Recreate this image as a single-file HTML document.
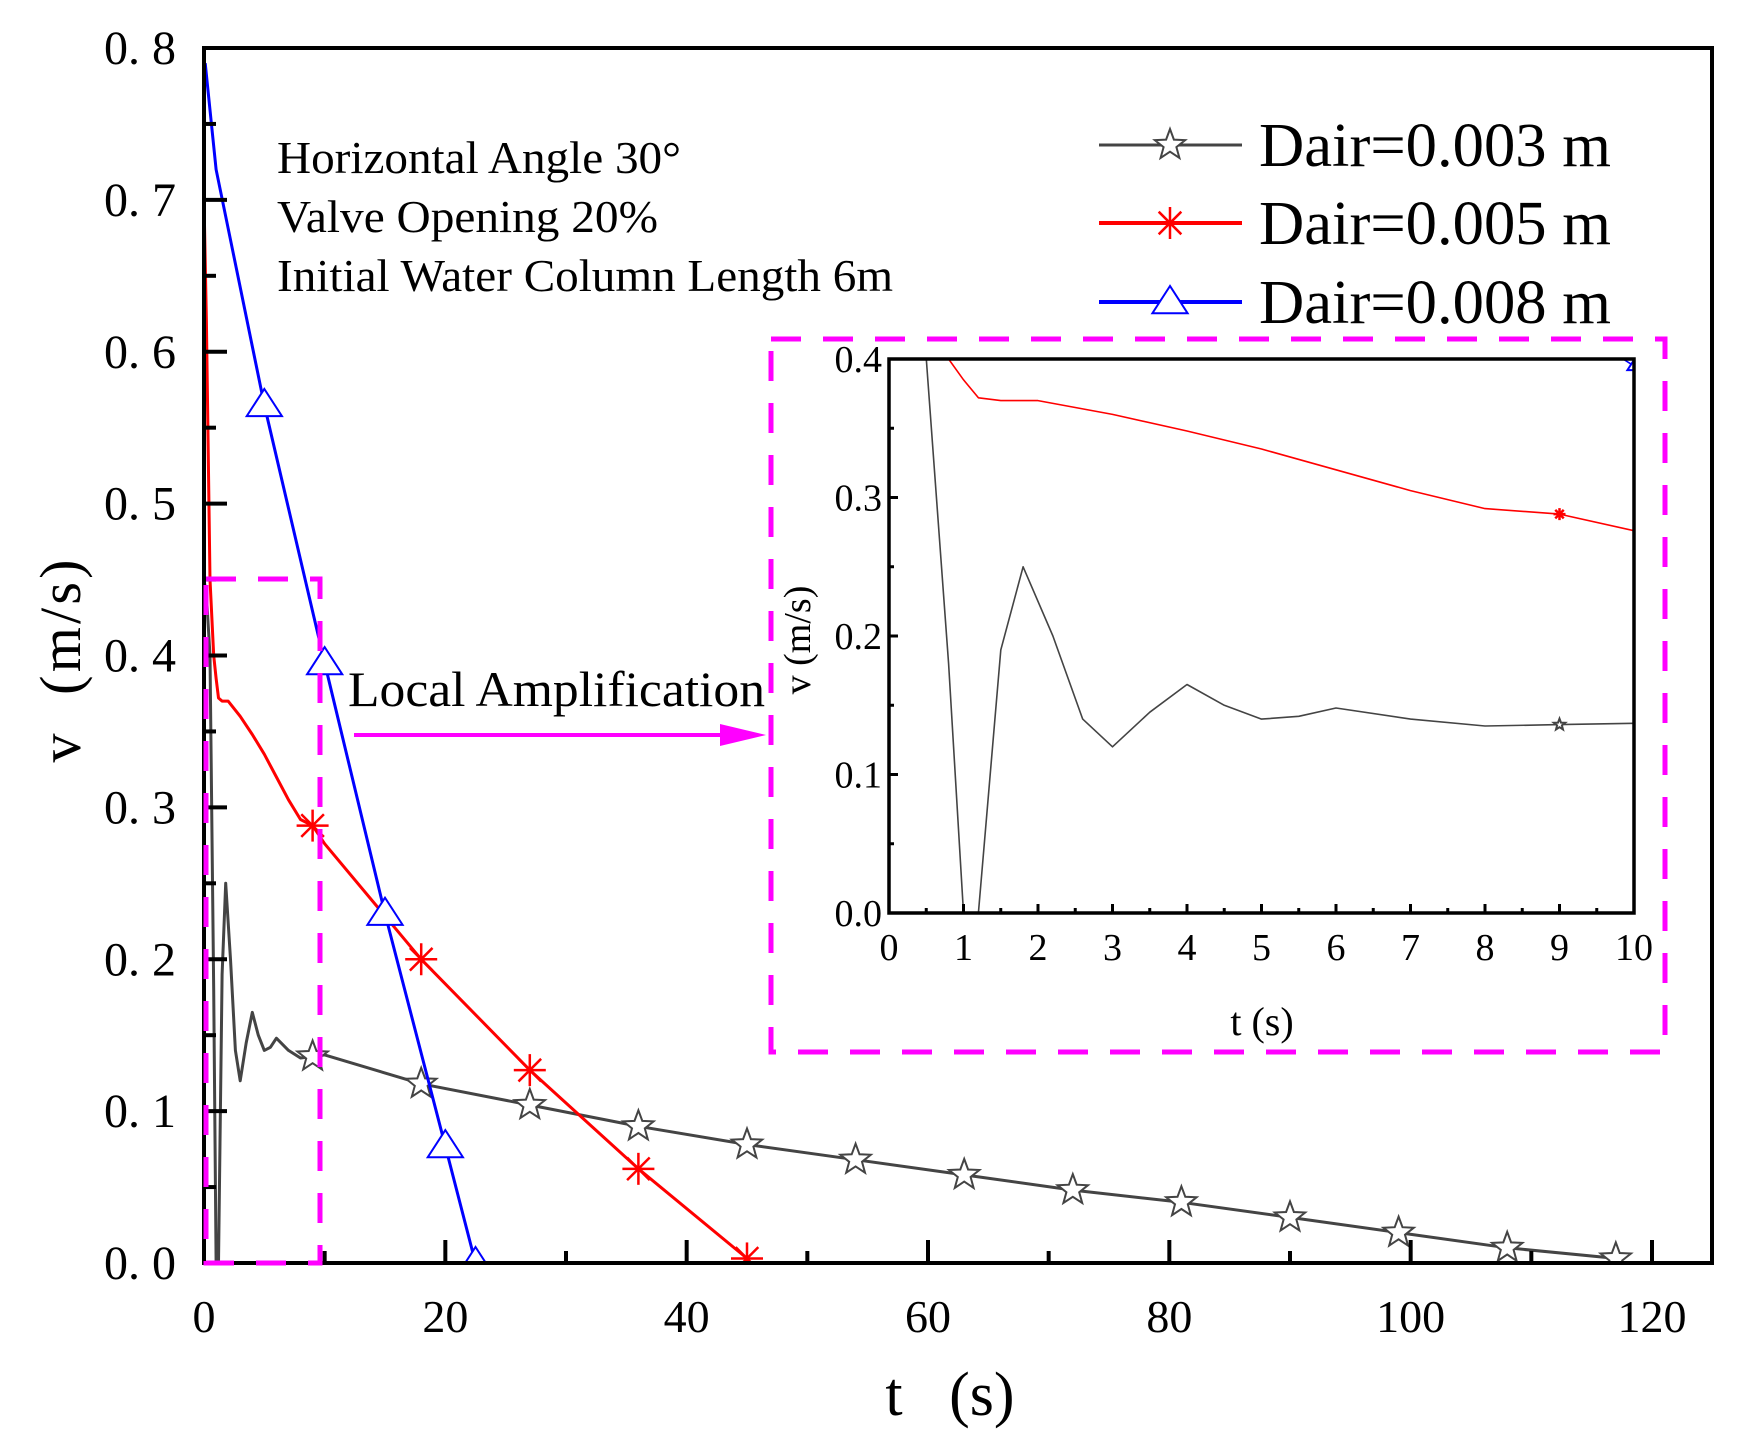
<!DOCTYPE html>
<html><head><meta charset="utf-8"><style>
html,body{margin:0;padding:0;background:#fff;}
svg{display:block;font-family:"Liberation Serif","Noto Serif CJK SC",serif;}
</style></head><body>
<svg id="chart" width="1738" height="1451" viewBox="0 0 1738 1451" xmlns="http://www.w3.org/2000/svg">
<defs>
<clipPath id="insetClip"><rect x="889" y="359" width="745" height="554"/></clipPath>
<clipPath id="mainClip"><rect x="204" y="48" width="1508" height="1215"/></clipPath>
</defs>
<g id="main"></g>
<g id="inset"></g>
<g font-size="46" fill="#000">
<text x="277" y="173" textLength="404" lengthAdjust="spacingAndGlyphs">Horizontal Angle 30°</text>
<text x="277" y="232" textLength="381" lengthAdjust="spacingAndGlyphs">Valve Opening 20%</text>
<text x="277" y="291" textLength="616" lengthAdjust="spacingAndGlyphs">Initial Water Column Length 6m</text>
</g>
<text x="348" y="706" font-size="50" textLength="417" lengthAdjust="spacingAndGlyphs">Local Amplification</text>
<g>
<line x1="354" y1="735" x2="730" y2="735" stroke="#ff00ff" stroke-width="4"/>
<polygon points="720,724 766,735 720,746" fill="#ff00ff"/>
</g>
<rect x="206" y="579" width="114" height="684" fill="none" stroke="#ff00ff" stroke-width="5" stroke-dasharray="30,22"/>
<rect x="771" y="339" width="894" height="713" fill="none" stroke="#ff00ff" stroke-width="5" stroke-dasharray="30,22"/>
<g id="legend"></g>
</svg>
<script>
// ---- data ----
const t003 = [0,0.2,0.5,0.8,1.0,1.2,1.5,1.8,2.2,2.6,3.0,3.5,4.0,4.5,5.0,5.5,6.0,7.0,8.0,9.0,10,18,27,36,45,54,63,72,81,90,99,108,117];
const v003 = [0.45,0.44,0.40,0.18,0.0,0.0,0.19,0.25,0.20,0.14,0.12,0.145,0.165,0.15,0.14,0.142,0.148,0.14,0.135,0.136,0.137,0.118,0.104,0.09,0.078,0.068,0.058,0.048,0.04,0.03,0.02,0.01,0.003];
const t005 = [0,0.2,0.5,0.8,1.0,1.2,1.5,2.0,3,4,5,6,7,8,9,10,18,27,36,45];
const v005 = [0.70,0.62,0.45,0.40,0.385,0.372,0.37,0.37,0.36,0.348,0.335,0.32,0.305,0.292,0.288,0.276,0.20,0.127,0.062,0.003];
const t008 = [0.1,1,5,10,15,20,22.5];
const v008 = [0.79,0.72,0.565,0.395,0.23,0.077,0.0];
const m003 = [9,18,27,36,45,54,63,72,81,90,99,108,117];
const m005 = [9,18,27,36,45];
const m008 = [5,10,15,20,22.5];
const xTicksMain = [0,20,40,60,80,100,120];
const yTicksMain = ["0. 0","0. 1","0. 2","0. 3","0. 4","0. 5","0. 6","0. 7","0. 8"];
const xTicksInset = [0,1,2,3,4,5,6,7,8,9,10];
const yTicksInset = ["0.0","0.1","0.2","0.3","0.4"];
const legendLabels = ["Dair=0.003 m","Dair=0.005 m","Dair=0.008 m"];

const NS="http://www.w3.org/2000/svg";
function mk(tag,attrs,parent){const e=document.createElementNS(NS,tag);for(const k in attrs)e.setAttribute(k,attrs[k]);parent.appendChild(e);return e;}
function interp(ts,vs,t){for(let i=0;i<ts.length-1;i++){if(t>=ts[i]&&t<=ts[i+1]){const f=(t-ts[i])/(ts[i+1]-ts[i]||1);return vs[i]+f*(vs[i+1]-vs[i]);}}return vs[vs.length-1];}
function star(g,x,y,r,col){let p=[];for(let i=0;i<10;i++){const a=-Math.PI/2+i*Math.PI/5;const rr=i%2?r*0.42:r;p.push((x+rr*Math.cos(a)).toFixed(1)+","+(y+rr*Math.sin(a)).toFixed(1));}
 return mk('polygon',{points:p.join(' '),fill:'#fff',stroke:col,'stroke-width':2},g);}
function aster(g,x,y,r,col){const e=mk('g',{stroke:col,'stroke-width':2.5},g);for(let i=0;i<4;i++){const a=i*Math.PI/4;mk('line',{x1:x-r*Math.sin(a),y1:y-r*Math.cos(a),x2:x+r*Math.sin(a),y2:y+r*Math.cos(a)},e);}return e;}
function tri(g,x,y,r,col){return mk('polygon',{points:`${x},${y-r} ${x-r*1.1},${y+r*0.7} ${x+r*1.1},${y+r*0.7}`,fill:'#fff',stroke:col,'stroke-width':2},g);}

// ---- main plot ----
const X0=204,X1=1652,Y0=1263,YT=48;
const sx=t=>X0+(t/120)*(X1-X0);
const sy=v=>Y0-(v/0.8)*(Y0-YT);
const main=document.getElementById('main');
const series=[
 {t:t003,v:v003,m:m003,col:'#444',w:3,mark:star,name:'series-dair-0003'},
 {t:t005,v:v005,m:m005,col:'#ff0000',w:3,mark:aster,name:'series-dair-0005'},
 {t:t008,v:v008,m:m008,col:'#0000ff',w:3,mark:tri,name:'series-dair-0008'}];
const gl=mk('g',{'clip-path':'url(#mainClip)'},main);
series.forEach(s=>{
 const g=mk('g',{},gl);
 
 
 const d=s.t.map((t,i)=>(i?'L':'M')+sx(t).toFixed(1)+','+sy(s.v[i]).toFixed(1)).join(' ');
 const p=mk('path',{d:d,fill:'none',stroke:s.col,'stroke-width':s.w,'stroke-linejoin':'round'},g);
 
 
 s.m.forEach(t=>{const e=s.mark(g,sx(t),sy(interp(s.t,s.v,t)),16,s.col);
  
  });
});
const frame=mk('rect',{x:X0,y:YT,width:1712-X0,height:Y0-YT,fill:'none',stroke:'#000','stroke-width':4},main);


const xa=mk('g',{},main);


xTicksMain.forEach(t=>{mk('line',{x1:sx(t),y1:Y0,x2:sx(t),y2:Y0-23,stroke:'#000','stroke-width':4},xa);
 const tx=mk('text',{x:sx(t),y:1332,'font-size':46,'text-anchor':'middle'},xa);tx.textContent=t;
 
 
 if(t<120)mk('line',{x1:sx(t+10),y1:Y0,x2:sx(t+10),y2:Y0-12,stroke:'#000','stroke-width':4},xa);});
const ya=mk('g',{},main);


yTicksMain.forEach((l,i)=>{const v=i*0.1;mk('line',{x1:X0,y1:sy(v),x2:X0+23,y2:sy(v),stroke:'#000','stroke-width':4},ya);
 const tx=mk('text',{x:176,y:sy(v)+16,'font-size':48,'text-anchor':'end'},ya);tx.textContent=l;
 
 
 if(i<8)mk('line',{x1:X0,y1:sy(v+0.05),x2:X0+12,y2:sy(v+0.05),stroke:'#000','stroke-width':4},ya);});
const xt=mk('text',{x:950,y:1415,'font-size':62,'text-anchor':'middle'},main);xt.textContent='t\u00a0\u00a0\u00a0(s)';


const yt=mk('text',{x:0,y:0,'font-size':58,'text-anchor':'middle',textLength:203,lengthAdjust:'spacing',transform:'translate(80,661) rotate(-90)'},main);yt.textContent='v\u00a0\u00a0(m/s)';



// ---- inset ----
const IX0=889,IX1=1634,IY0=913,IYT=359;
const ix=t=>IX0+(t/10)*(IX1-IX0);
const iy=v=>IY0-(v/0.4)*(IY0-IYT);
const inset=document.getElementById('inset');


mk('rect',{x:IX0,y:IYT,width:IX1-IX0,height:IY0-IYT,fill:'#fff'},inset);
const ic=mk('g',{'clip-path':'url(#insetClip)'},inset);
series.forEach(s=>{
 const d=s.t.map((t,i)=>(i?'L':'M')+ix(t).toFixed(1)+','+iy(s.v[i]).toFixed(1)).join(' ');
 const p=mk('path',{d:d,fill:'none',stroke:s.col,'stroke-width':1.6,'stroke-linejoin':'round'},ic);
 
 
 s.m.filter(t=>t<=10).forEach(t=>{s.mark(ic,ix(t),iy(interp(s.t,s.v,t)),6,s.col);});
});
mk('rect',{x:IX0,y:IYT,width:IX1-IX0,height:IY0-IYT,fill:'none',stroke:'#000','stroke-width':3.5},inset);
xTicksInset.forEach(t=>{mk('line',{x1:ix(t),y1:IY0,x2:ix(t),y2:IY0-9,stroke:'#000','stroke-width':3},inset);
 if(t<10)mk('line',{x1:ix(t+0.5),y1:IY0,x2:ix(t+0.5),y2:IY0-5,stroke:'#000','stroke-width':3},inset);
 const tx=mk('text',{x:ix(t),y:960,'font-size':38,'text-anchor':'middle'},inset);tx.textContent=t;
 
 });
yTicksInset.forEach((l,i)=>{const v=i*0.1;mk('line',{x1:IX0,y1:iy(v),x2:IX0+9,y2:iy(v),stroke:'#000','stroke-width':3},inset);
 if(i<4)mk('line',{x1:IX0,y1:iy(v+0.05),x2:IX0+5,y2:iy(v+0.05),stroke:'#000','stroke-width':3},inset);
 const tx=mk('text',{x:882,y:iy(v)+13,'font-size':38,'text-anchor':'end'},inset);tx.textContent=l;
 
 });
const ixt=mk('text',{x:1262,y:1035,'font-size':40,'text-anchor':'middle'},inset);ixt.textContent='t (s)';


const iyt=mk('text',{x:0,y:0,'font-size':38,'text-anchor':'middle',transform:'translate(810,640) rotate(-90)'},inset);iyt.textContent='v (m/s)';



// ---- legend ----
const lg=document.getElementById('legend');
const rows=[145,223,302];
series.forEach((s,i)=>{
 const g=mk('g',{},lg);
 
 
 mk('line',{x1:1099,y1:rows[i],x2:1242,y2:rows[i],stroke:s.col,'stroke-width':i?4:3},g);
 s.mark(g,1170,rows[i],16,s.col);
 const tx=mk('text',{x:1259,y:rows[i]+21,'font-size':62,textLength:352,lengthAdjust:'spacingAndGlyphs'},g);
 tx.textContent=legendLabels[i];
});
</script>
</body></html>
